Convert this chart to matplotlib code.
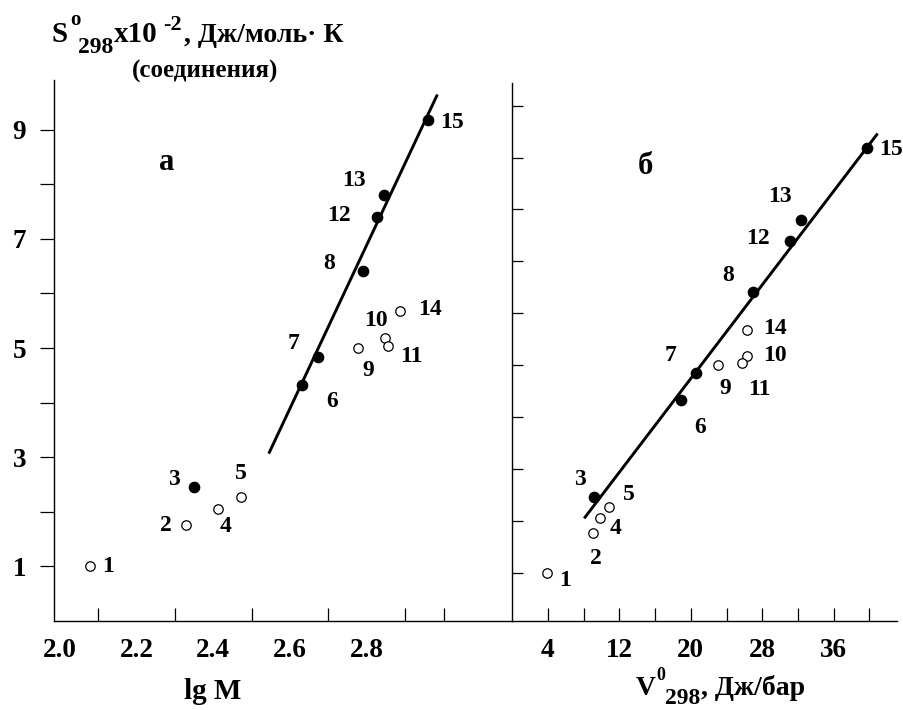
import matplotlib
matplotlib.use("Agg")
import matplotlib.pyplot as plt

plt.rcParams["font.family"] = ["Liberation Serif", "DejaVu Serif"]
plt.rcParams["font.weight"] = "bold"

# Compound numbers and their properties
numbers = [str(i) for i in range(1, 16)]
lg_m = [2.079, 2.328, 2.350, 2.411, 2.471, 2.632, 2.673, 2.791,
        2.778, 2.846, 2.856, 2.827, 2.845, 2.886, 2.960]
v298 = [3.87, 9.08, 9.20, 9.83, 10.84, 18.94, 20.55, 27.0,
        23.04, 26.26, 25.77, 31.10, 32.34, 26.26, 39.76]
s298 = [1.00, 1.76, 2.46, 2.06, 2.27, 4.32, 4.84, 6.41,
        5.00, 5.18, 5.04, 7.40, 7.80, 5.68, 9.18]
filled = [False, False, True, False, False, True, True, True,
          False, False, False, True, True, False, True]

# Regression lines (end points)
fit_lg_m = [2.546, 2.982]
fit_s_a = [3.09, 9.62]
fit_v = [8.16, 40.81]
fit_s_b = [2.07, 9.44]

# Axis ticks
xa_labels = [2.0, 2.2, 2.4, 2.6, 2.8]
xa_minor = [2.1, 2.2, 2.3, 2.4, 2.5, 2.6, 2.7, 2.8, 2.9, 3.0]
ya_major = [1, 3, 5, 7, 9]
ya_minor = [2, 4, 6, 8]
xb_major = [4, 12, 20, 28, 36]
xb_minor = [8, 16, 24, 32, 40]
yb_ticks = [1, 2, 3, 4, 5, 6, 7, 8, 9, 10]

# Label offsets (pixels) for the point numbers
off_a = [(18, 0), (-20, -1), (-20, 7), (8, -18), (0, 24), (30, -16), (-25, 13),
         (-34, 8), (10, -22), (-9, 18), (23, -11), (-38, 2), (-30, 15),
         (30, 1), (24, -3)]
off_b = [(18, -8), (3, -25), (-14, 17), (16, -11), (20, 12), (19, -27),
         (-25, 18), (-25, 16), (7, -23), (28, 0), (17, -26), (-32, 2),
         (-21, 23), (28, 1), (24, -1)]

W, H = 904, 710
fig = plt.figure(figsize=(W / 100, H / 100), dpi=100)
ax_a = fig.add_axes([54 / W, 89 / H, 458 / W, 541 / H])
ax_b = fig.add_axes([512 / W, 89 / H, 385 / W, 537.7 / H])


def scatter_panel(ax, xs, offs):
    for x, y, f, n, o in zip(xs, s298, filled, numbers, offs):
        if f:
            ax.plot(x, y, "o", ms=7.4, mfc="black", mec="black", zorder=4)
        else:
            ax.plot(x, y, "o", ms=6.8, mfc="white", mec="black", mew=0.9, zorder=4)
        ax.annotate(n, (x, y), xytext=o, textcoords="offset pixels",
                    ha="center", va="center", fontsize=17, fontweight="bold")


for ax in (ax_a, ax_b):
    for side in ("top", "right"):
        ax.spines[side].set_visible(False)
    for side in ("left", "bottom"):
        ax.spines[side].set_linewidth(1.0)
    ax.patch.set_alpha(0)

# Panel a: S vs lg M
ax_a.plot(fit_lg_m, fit_s_a, color="black", lw=2.1, zorder=3)
scatter_panel(ax_a, lg_m, off_a)
ax_a.set_xlim(1.985, 3.178)
ax_a.set_ylim(0.0, 9.91)
ax_a.set_xticks(xa_labels)
ax_a.set_xticklabels([f"{v:.1f}" for v in xa_labels])
ax_a.set_xticks(xa_minor, minor=True)
ax_a.tick_params(axis="x", which="major", length=0, pad=12, labelsize=19.5)
ax_a.tick_params(axis="x", which="minor", direction="in", length=9.4, width=0.9)
ax_a.set_yticks(ya_major)
ax_a.set_yticks(ya_minor, minor=True)
ax_a.tick_params(axis="y", which="both", direction="out", length=10, width=0.9,
                 pad=10, labelsize=19.5)
ax_a.text(0.246, 0.847, "а", transform=ax_a.transAxes, ha="center",
          va="center", fontsize=22, fontweight="bold")

# Panel b: S vs V
ax_b.plot(fit_v, fit_s_b, color="black", lw=2.1, zorder=3)
scatter_panel(ax_b, v298, off_b)
ax_b.set_xlim(-0.02, 43.08)
ax_b.set_ylim(0.07, 10.43)
ax_b.set_xticks(xb_major)
ax_b.set_xticks(xb_minor, minor=True)
ax_b.tick_params(axis="x", which="both", direction="in", length=9.4, width=0.9,
                 pad=12, labelsize=19.5)
ax_b.set_yticks(yb_ticks)
ax_b.tick_params(axis="y", which="both", direction="in", length=8, width=0.9,
                 labelleft=False)
ax_b.text(0.347, 0.845, "б", transform=ax_b.transAxes, ha="center",
          va="center", fontsize=22, fontweight="bold")


def put(x, y, s, size, ha="left"):
    fig.text(x / W, 1 - y / H, s, fontsize=size, fontweight="bold",
             ha=ha, va="baseline")


# Y-axis title
put(52, 42, "S", 21)
put(70, 25, "o", 15)
put(78, 53, "298", 17)
put(114, 42, "x10", 21)
put(163, 30, "-2", 16)
put(184, 42, ", Дж/моль· К", 20)
put(205, 78, "(соединения)", 18, ha="center")

# X-axis titles
put(212.5, 699, "lg M", 21, ha="center")
put(636, 695, "V", 20)
put(656, 680, "0", 13)
put(665, 704, "298", 17)
put(701, 695, ", Дж/бар", 20)

fig.savefig("out.png", dpi=100)
